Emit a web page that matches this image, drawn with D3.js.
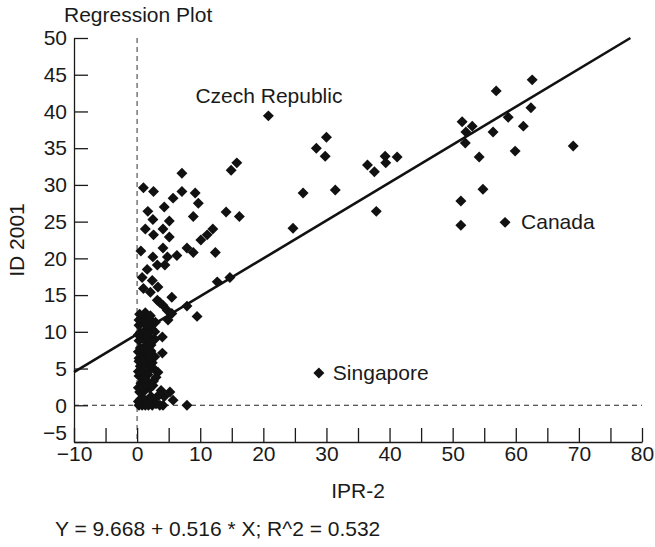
<!DOCTYPE html>
<html>
<head>
<meta charset="utf-8">
<script src="https://cdn.jsdelivr.net/npm/d3@7"></script>
<style>
  body { margin: 0; background: #fff; }
  svg text { font-family: "Liberation Sans", Arial, sans-serif; fill: #1a1a1a; }
</style>
</head>
<body>
<div id="chart"></div>
<script>
// IPR-2 (x) and ID 2001 (y)
var iprValues = [
  20.8, 30.0, 28.4, 29.8, 15.8, 14.9, 14.1, 16.2, 26.3, 31.4, 24.7,
  36.5, 37.6, 39.3, 39.4, 41.2, 37.9,
  62.6, 56.9, 62.4, 58.8, 51.5, 53.1, 52.1, 56.4, 61.2, 52.0, 69.1, 59.9, 54.2, 54.8, 51.3, 51.3, 58.3,
  28.8,
  7.1, 1.0, 2.6, 5.7, 7.1, 9.2, 9.7, 4.3, 1.7, 2.5, 5.1, 8.9, 1.3, 2.6, 4.1, 5.1,
  10.1, 11.1, 12.0,
  0.6, 4.1, 2.5, 6.3, 4.8, 7.9, 8.9, 12.4, 3.2, 4.4, 1.6, 0.8, 2.4, 1.0, 2.1, 3.3, 5.5, 3.2, 4.1, 4.8, 5.5,
  7.9, 9.5, 12.7, 14.7, 0.8, 3.6, 4.9, 4.0, 4.0, 3.3, 5.2, 5.7, 4.1, 7.9,
  0.3, 0.8, 1.3, 1.8, 2.4, 3.0, 3.6, 0.5, 1.5, 2.2, 0.4, 1.2, 2.0, 3.8, 0.6, 1.6, 2.6,
  0.3, 1.1, 1.9, 0.5, 1.4, 2.4, 0.3, 1.0, 1.8, 2.8, 0.5, 1.3, 2.2, 0.3, 1.0, 1.8, 2.8,
  0.5, 1.4, 2.3, 0.3, 1.0, 1.8, 2.9, 0.7, 1.6,
  0.2, 0.9, 1.7, 2.3, 0.2, 0.9, 1.6, 2.5, 0.2, 1.0, 1.7, 0.3, 1.1, 2.0, 0.2, 0.8, 1.5, 2.2,
  0.2, 0.9, 1.7, 0.3, 1.2, 2.0, 0.4, 1.3, 2.1, 3.0, 4.3, 3.6, 3.0, 2.6, 1.2, 2.0, 2.8
];
var idValues = [
  39.4, 36.5, 35.0, 33.9, 33.0, 32.0, 26.3, 25.7, 28.9, 29.3, 24.1,
  32.7, 31.8, 33.9, 33.0, 33.8, 26.4,
  44.3, 42.8, 40.5, 39.2, 38.6, 38.0, 37.2, 37.2, 38.0, 35.7, 35.3, 34.6, 33.8, 29.4, 27.8, 24.5, 24.9,
  4.4,
  31.6, 29.6, 29.1, 28.2, 29.1, 28.9, 27.5, 27.0, 26.4, 25.3, 25.1, 25.7, 24.0, 23.2, 24.0, 22.9,
  22.5, 23.2, 24.0,
  21.0, 21.4, 20.2, 20.4, 20.2, 21.4, 20.8, 20.8, 19.1, 19.1, 18.5, 17.4, 17.0, 15.9, 15.4, 16.1, 14.7, 14.3, 13.6, 12.9, 12.5,
  13.5, 12.1, 16.8, 17.4, 12.0, 14.0, 11.6, 9.3, 7.1, 4.5, 1.8, 0.7, 0.0, 0.0,
  0.0, 0.0, 0.0, 0.0, 0.0, 0.2, 0.0, 0.8, 0.6, 1.2, 1.8, 2.0, 2.3, 2.0, 3.0, 3.2, 3.3,
  4.0, 4.4, 4.8, 5.3, 5.6, 5.8, 6.4, 6.8, 7.0, 6.6, 7.8, 8.0, 8.2, 8.8, 9.0, 9.3, 9.0,
  9.9, 10.2, 10.4, 10.9, 11.2, 11.0, 11.3, 11.9, 12.1,
  0.5, 1.0, 0.4, 0.9, 2.4, 2.6, 2.8, 2.7, 4.6, 5.0, 4.2, 6.0, 6.2, 6.3, 7.3, 7.5, 7.8, 7.4,
  9.6, 9.8, 9.5, 11.6, 11.5, 11.7, 12.4, 12.6, 12.2, 1.0, 1.2, 1.5, 3.8, 5.0, 3.6, 8.6, 10.0
];
var xTicks = [-10, -5, 0, 5, 10, 15, 20, 25, 30, 35, 40, 45, 50, 55, 60, 65, 70, 75, 80];
var yTicks = [-5, 0, 5, 10, 15, 20, 25, 30, 35, 40, 45, 50];
var labelNames = ["Czech Republic", "Canada", "Singapore"];
var labelIpr = [20.8, 58.3, 28.8];
var labelId = [39.4, 24.9, 4.4];
var intercept = 9.668;
var slope = 0.516;

var svgWidth = 655;
var svgHeight = 547;
var fontSize = "21px";

var svg = d3.select("#chart")
    .append("svg")
    .attr("width", svgWidth)
    .attr("height", svgHeight);

var x = d3.scaleLinear().domain([-10, 80]).range([74, 642]);
var y = d3.scaleLinear().domain([-5, 50]).range([442, 38]);

var fmt = function(d) { return d < 0 ? "\u2212" + Math.abs(d) : "" + d; };

// reference lines at 0
svg.append("line")
    .attr("x1", x(0)).attr("x2", x(0))
    .attr("y1", y(50)).attr("y2", y(-5))
    .attr("stroke", "#777").attr("stroke-width", 1.5)
    .attr("stroke-dasharray", "5,4");
svg.append("line")
    .attr("x1", x(-10)).attr("x2", x(80))
    .attr("y1", y(0)).attr("y2", y(0))
    .attr("stroke", "#222").attr("stroke-width", 1.2)
    .attr("stroke-dasharray", "5,4");

// axes
var yAxis = svg.append("g")
    .attr("transform", "translate(" + x(-10) + ",0)")
    .call(d3.axisLeft(y).tickValues(yTicks).tickSize(-14).tickSizeOuter(0).tickPadding(7).tickFormat(fmt));
var xAxis = svg.append("g")
    .attr("transform", "translate(0," + y(-5) + ")")
    .call(d3.axisBottom(x).tickValues(xTicks).tickSize(-14).tickSizeOuter(0).tickPadding(6)
      .tickFormat(function(d) { return d % 10 === 0 ? fmt(d) : ""; }));

svg.selectAll(".tick text").style("font-size", fontSize).style("font-family", "'Liberation Sans', Arial, sans-serif");
svg.selectAll(".domain, .tick line").attr("stroke", "#1a1a1a").attr("stroke-width", 1.3);
// -5 sits a little higher so it clears the -10 below it
yAxis.selectAll(".tick text").filter(function(d) { return d === -5; }).attr("dy", "-0.12em");
xAxis.selectAll(".tick text").attr("y", 4);

// regression line, clipped at the top of the axis
var xEnd = (50 - intercept) / slope;
svg.append("line")
    .attr("x1", x(-10)).attr("y1", y(intercept + slope * -10))
    .attr("x2", x(xEnd)).attr("y2", y(intercept + slope * xEnd))
    .attr("stroke", "#111").attr("stroke-width", 2.6);

// points
var diamond = d3.symbol().type(d3.symbolSquare).size(60);
svg.append("g").selectAll("path")
    .data(iprValues)
    .enter()
    .append("path")
      .attr("d", diamond)
      .attr("transform", function(d, i) { return "translate(" + x(d) + "," + y(idValues[i]) + ") rotate(45)"; })
      .attr("fill", "#111");

// labels
var labelDx = [-73, 16, 14];
var labelDy = [-13, 7, 7];
svg.append("g").selectAll("text")
    .data(labelNames)
    .enter()
    .append("text")
      .attr("x", function(d, i) { return x(labelIpr[i]) + labelDx[i]; })
      .attr("y", function(d, i) { return y(labelId[i]) + labelDy[i]; })
      .style("font-size", fontSize)
      .text(function(d) { return d; });

svg.append("text")
    .attr("x", 64).attr("y", 22)
    .style("font-size", fontSize)
    .text("Regression Plot");

svg.append("text")
    .attr("transform", "translate(24," + y(22.5) + ") rotate(-90)")
    .attr("text-anchor", "middle")
    .style("font-size", fontSize)
    .text("ID 2001");

svg.append("text")
    .attr("x", x(35)).attr("y", 498)
    .attr("text-anchor", "middle")
    .style("font-size", fontSize)
    .text("IPR-2");

svg.append("text")
    .attr("x", 55).attr("y", 536)
    .style("font-size", fontSize)
    .text("Y = " + intercept + " + " + slope + " * X; R^2 = 0.532");
</script>
</body>
</html>
